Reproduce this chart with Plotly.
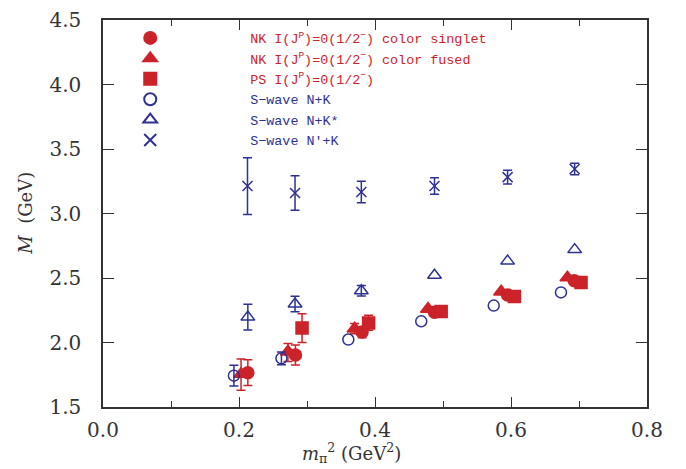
import plotly.graph_objects as go

RED = "#cc2229"
BLUE = "#2e3192"

# NK color singlet (filled circle)
x_cs = [0.213, 0.283, 0.381, 0.4875, 0.595, 0.693]
y_cs = [1.766, 1.903, 2.082, 2.235, 2.368, 2.478]
e_cs_up = [0.10, 0.077, 0.04, None, None, None]
e_cs_dn = [0.10, 0.077, 0.045, None, None, None]

# NK color fused (filled triangle)
x_cf = [0.203, 0.272, 0.370, 0.478, 0.5855, 0.683]
y_cf = [1.755, 1.929, 2.107, 2.26, 2.393, 2.503]
e_cf_up = [0.118, 0.063, 0.04, None, None, None]
e_cf_dn = [0.125, 0.077, 0.04, None, None, None]

# PS (filled square)
x_ps = [0.2927, 0.3906, 0.4973, 0.605, 0.703]
y_ps = [2.113, 2.151, 2.24, 2.357, 2.465]
e_ps_up = [0.109, 0.06, None, None, None]
e_ps_dn = [0.113, 0.056, None, None, None]

# S-wave N+K (open circle)
x_nk = [0.1925, 0.2624, 0.3608, 0.468, 0.5746, 0.6735]
y_nk = [1.743, 1.877, 2.023, 2.164, 2.286, 2.388]
e_nk = [0.08, 0.05, None, None, None, None]

# S-wave N+K* (open triangle)
x_nks = [0.213, 0.2824, 0.3799, 0.4875, 0.595, 0.6936]
y_nks = [2.197, 2.299, 2.401, 2.521, 2.631, 2.72]
e_nks = [0.10, 0.06, 0.04, None, None, None]

# S-wave N'+K (cross)
x_npk = [0.2125, 0.2824, 0.3799, 0.4875, 0.595, 0.6936]
y_npk = [3.213, 3.159, 3.167, 3.213, 3.282, 3.345]
e_npk = [0.22, 0.133, 0.083, 0.064, 0.054, 0.044]

names = [
    f"<span style='color:{RED}'>NK I(J<sup>P</sup>)=0(1/2<sup>−</sup>) color singlet</span>",
    f"<span style='color:{RED}'>NK I(J<sup>P</sup>)=0(1/2<sup>−</sup>) color fused</span>",
    f"<span style='color:{RED}'>PS I(J<sup>P</sup>)=0(1/2<sup>−</sup>)</span>",
    f"<span style='color:{BLUE}'>S−wave N+K</span>",
    f"<span style='color:{BLUE}'>S−wave N+K*</span>",
    f"<span style='color:{BLUE}'>S−wave N'+K</span>",
]

fig = go.Figure()


def add(x, y, eu, ed, name, color, symbol, size, group, lw=1.5):
    marker = dict(symbol=symbol, size=size, color=color,
                  line=dict(color=color, width=lw))
    wi = [i for i in range(len(x)) if eu[i] is not None]
    ni = [i for i in range(len(x)) if eu[i] is None]
    fig.add_trace(go.Scatter(
        x=[x[i] for i in wi], y=[y[i] for i in wi], mode="markers", name=name,
        legendgroup=group, marker=marker,
        error_y=dict(type="data", symmetric=False,
                     array=[eu[i] for i in wi], arrayminus=[ed[i] for i in wi],
                     color=color, thickness=1.5, width=4.5),
    ))
    if ni:
        fig.add_trace(go.Scatter(
            x=[x[i] for i in ni], y=[y[i] for i in ni], mode="markers", name=name,
            legendgroup=group, showlegend=False, marker=marker,
        ))


add(x_cs, y_cs, e_cs_up, e_cs_dn, names[0], RED, "circle", 12, "a")
add(x_cf, y_cf, e_cf_up, e_cf_dn, names[1], RED, "triangle-up", 13, "b")
add(x_ps, y_ps, e_ps_up, e_ps_dn, names[2], RED, "square", 12, "c")
add(x_nk, y_nk, e_nk, e_nk, names[3], BLUE, "circle-open", 11, "d")
add(x_nks, y_nks, e_nks, e_nks, names[4], BLUE, "triangle-up-open", 12, "e")
add(x_npk, y_npk, e_npk, e_npk, names[5], BLUE, "x-thin-open", 10, "f")

axis_common = dict(
    showline=True, linecolor="#333", linewidth=1.5, mirror="ticks",
    ticks="inside", tickcolor="#333", tickwidth=1.2,
    showgrid=False, zeroline=False, automargin=False,
    ticklabeloverflow="allow",
    tickfont=dict(family="DejaVu Serif", size=20, color="#333"),
)

title_font = dict(family="DejaVu Serif", size=18, color="#333")

fig.update_layout(
    template="plotly_white",
    width=686, height=469,
    margin=dict(l=95, r=47, t=12, b=70, autoexpand=False),
    paper_bgcolor="white", plot_bgcolor="white",
    xaxis=dict(range=[0, 0.8], dtick=0.2, tick0=0, tickformat=".1f", ticklen=10,
               ticklabelstandoff=4,
               minor=dict(dtick=0.1, ticklen=6, ticks="inside", tickcolor="#333",
                          showgrid=False),
               **axis_common),
    yaxis=dict(range=[1.5, 4.5], dtick=0.5, tick0=1.5, tickformat=".1f", ticklen=11,
               ticklabelstandoff=16,
               **axis_common),
    showlegend=True,
    legend=dict(x=-0.097, y=0.993, xanchor="left", yanchor="top",
                bgcolor="rgba(0,0,0,0)", itemwidth=190,
                font=dict(family="Liberation Mono", size=13.4),
                tracegroupgap=0, itemsizing="constant"),
    annotations=[
        dict(text="<i>m</i><sub>π</sub><sup>2</sup> (GeV<sup>2</sup>)",
             xref="paper", yref="paper", x=0.456, y=-0.12,
             xanchor="center", yanchor="middle", showarrow=False, font=title_font),
        dict(text="<i>M</i>  (GeV)", textangle=-90,
             xref="paper", yref="paper", x=-0.143, y=0.5,
             xanchor="center", yanchor="middle", showarrow=False, font=title_font),
    ],
)

fig.write_html("out.html")
